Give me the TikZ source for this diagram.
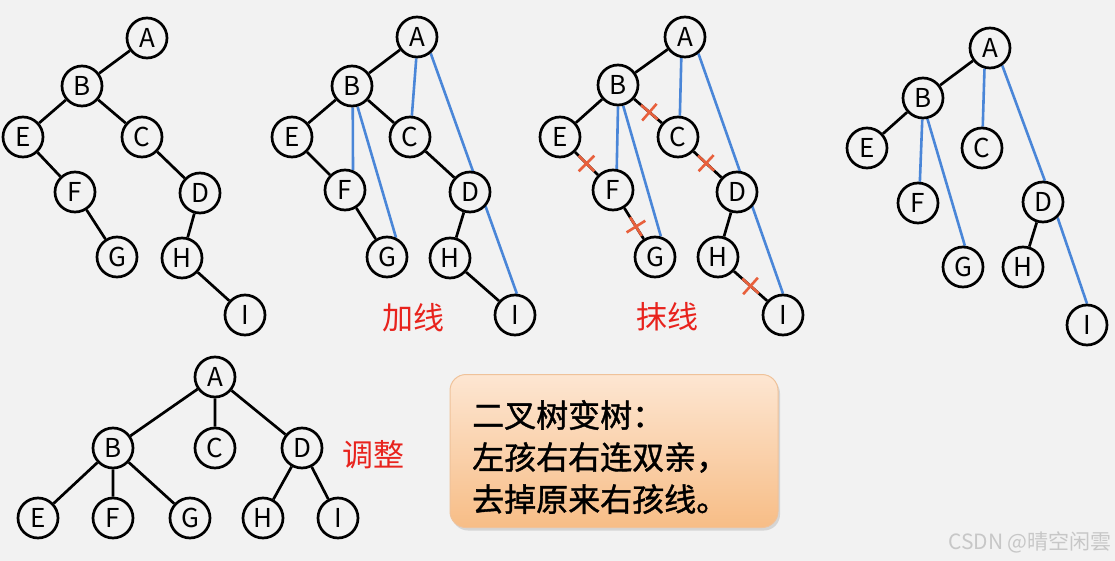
\documentclass[tikz,border=0pt]{standalone}
\usepackage{fontspec}
\setmainfont{Noto Sans CJK SC}
\newfontfamily\notefont{Noto Sans CJK SC}[FakeBold=1.2]
\usetikzlibrary{shapes.misc,shadows}
\definecolor{paper}{HTML}{F2F2F2}
\definecolor{addblue}{HTML}{4A86D8}
\definecolor{cutred}{HTML}{E8603C}
\definecolor{labelred}{HTML}{E8231D}
\definecolor{notetop}{HTML}{FDE6D2}
\definecolor{notebottom}{HTML}{F7BD86}
\definecolor{noteedge}{HTML}{EFC29A}
\pgfdeclarelayer{backdrop}
\pgfdeclarelayer{links}
\pgfsetlayers{backdrop,links,main}
\newcommand{\letterSize}[0]{\fontsize{26}{26}\selectfont}

\begin{document}
\begin{tikzpicture}[x=1pt, y=-1pt]
  \tikzset{
    vertex/.style={circle, draw, line width=2.7pt, fill=paper, minimum size=40pt,
      inner sep=0pt, font=\letterSize},
    link/.style={line width=2.7pt},
    addlink/.style={line width=2.6pt, addblue},
    cutmark/.style={cross out, draw=cutred, line width=2.6pt, minimum size=13pt,
      inner sep=0pt, sloped, rotate=45},
    steplabel/.style={text=labelred, font=\fontsize{31}{31}\selectfont},
    note/.style={rectangle, rounded corners=16pt, draw=noteedge, line width=1pt,
      top color=notetop, bottom color=notebottom,
      drop shadow={shadow xshift=2pt, shadow yshift=-3pt, opacity=0.25}}
  }
  \begin{pgfonlayer}{backdrop}
    \fill[paper] (0,0) rectangle (1115,561);
  \end{pgfonlayer}

  % binary tree
  \node[vertex] (A1) at (147,38) {A};
  \node[vertex] (B1) at (82,86) {B};
  \node[vertex] (E1) at (23,137) {E};
  \node[vertex] (C1) at (142,137) {C};
  \node[vertex] (F1) at (75,192) {F};
  \node[vertex] (D1) at (200,193) {D};
  \node[vertex] (G1) at (117,257) {G};
  \node[vertex] (H1) at (182,258) {H};
  \node[vertex] (I1) at (245,315) {I};

  % add lines
  \node[vertex] (A2) at (417,37) {A};
  \node[vertex] (B2) at (352,86) {B};
  \node[vertex] (E2) at (292,137) {E};
  \node[vertex] (C2) at (410,137) {C};
  \node[vertex] (F2) at (345,190) {F};
  \node[vertex] (D2) at (470,192) {D};
  \node[vertex] (G2) at (387,257) {G};
  \node[vertex] (H2) at (450,258) {H};
  \node[vertex] (I2) at (515,315) {I};
  \node[steplabel] (addlabel) at (413,318) {加线};

  % remove lines
  \node[vertex] (A3) at (685,37) {A};
  \node[vertex] (B3) at (618,85) {B};
  \node[vertex] (E3) at (560,137) {E};
  \node[vertex] (C3) at (678,137) {C};
  \node[vertex] (F3) at (613,190) {F};
  \node[vertex] (D3) at (737,192) {D};
  \node[vertex] (G3) at (655,257) {G};
  \node[vertex] (H3) at (718,257) {H};
  \node[vertex] (I3) at (783,315) {I};
  \node[steplabel] (cutlabel) at (667,317) {抹线};

  % result
  \node[vertex] (A4) at (990,48) {A};
  \node[vertex] (B4) at (923,98) {B};
  \node[vertex] (E4) at (867,148) {E};
  \node[vertex] (C4) at (982,148) {C};
  \node[vertex] (F4) at (918,203) {F};
  \node[vertex] (D4) at (1043,202) {D};
  \node[vertex] (G4) at (963,267) {G};
  \node[vertex] (H4) at (1023,267) {H};
  \node[vertex] (I4) at (1087,325) {I};

  % tidied tree
  \node[vertex] (A5) at (215,377) {A};
  \node[vertex] (B5) at (113,448) {B};
  \node[vertex] (C5) at (215,448) {C};
  \node[vertex] (D5) at (302,448) {D};
  \node[vertex] (E5) at (38,518) {E};
  \node[vertex] (F5) at (113,518) {F};
  \node[vertex] (G5) at (190,518) {G};
  \node[vertex] (H5) at (263,518) {H};
  \node[vertex] (I5) at (338,518) {I};
  \node[steplabel] (fixlabel) at (373,455) {调整};

  \node[note, minimum width=328pt, minimum height=153pt] (rulebox) at (614,451) {};
  \node[anchor=west, align=left, inner sep=0pt, font=\notefont\fontsize{32}{42}\selectfont]
    (ruletext) at (472,457) {二叉树变树：\\左孩右右连双亲，\\去掉原来右孩线。};
  \node[anchor=east, inner sep=0pt, text=black!22, font=\fontsize{21}{21}\selectfont]
    (mark) at (1112,542) {CSDN @晴空闲雲};

  \begin{pgfonlayer}{links}
    \draw[link] (A1) -- (B1) (B1) -- (E1) (B1) -- (C1) (E1) -- (F1)
      (F1) -- (G1) (C1) -- (D1) (D1) -- (H1) (H1) -- (I1);

    \draw[link] (A2) -- (B2) (B2) -- (E2) (B2) -- (C2) (E2) -- (F2)
      (F2) -- (G2) (C2) -- (D2) (D2) -- (H2) (H2) -- (I2);
    \draw[addlink] (A2.-92) -- (C2.85) (A2.-50) -- (I2.85)
      (B2.-88) -- (F2.68) (B2.-75) -- (G2.65);

    \draw[link] (A3) -- (B3) (B3) -- (E3) (D3) -- (H3);
    \draw[link] (B3) -- node[cutmark, pos=0.55] (cutBC) {} (C3);
    \draw[link] (E3) -- node[cutmark] (cutEF) {} (F3);
    \draw[link] (F3) -- node[cutmark, pos=0.6] (cutFG) {} (G3);
    \draw[link] (C3) -- node[cutmark, pos=0.45] (cutCD) {} (D3);
    \draw[link] (H3) -- node[cutmark] (cutHI) {} (I3);
    \draw[addlink] (A3.-100) -- (C3.85) (A3.-51) -- (I3.90)
      (B3.-90) -- (F3.80) (B3.-76) -- (G3.74);

    \draw[link] (A4) -- (B4) (B4) -- (E4) (D4) -- (H4);
    \draw[addlink] (A4.-105) -- (C4.88) (A4.-55) -- (D4.85)
      (B4.-92) -- (F4.85) (B4.-78) -- (G4.85) (D4.-47) -- (I4.90);

    \draw[link] (A5) -- (B5) (A5) -- (C5) (A5) -- (D5) (B5) -- (E5)
      (B5) -- (F5) (B5) -- (G5) (D5) -- (H5) (D5) -- (I5);
  \end{pgfonlayer}
\end{tikzpicture}
\end{document}
